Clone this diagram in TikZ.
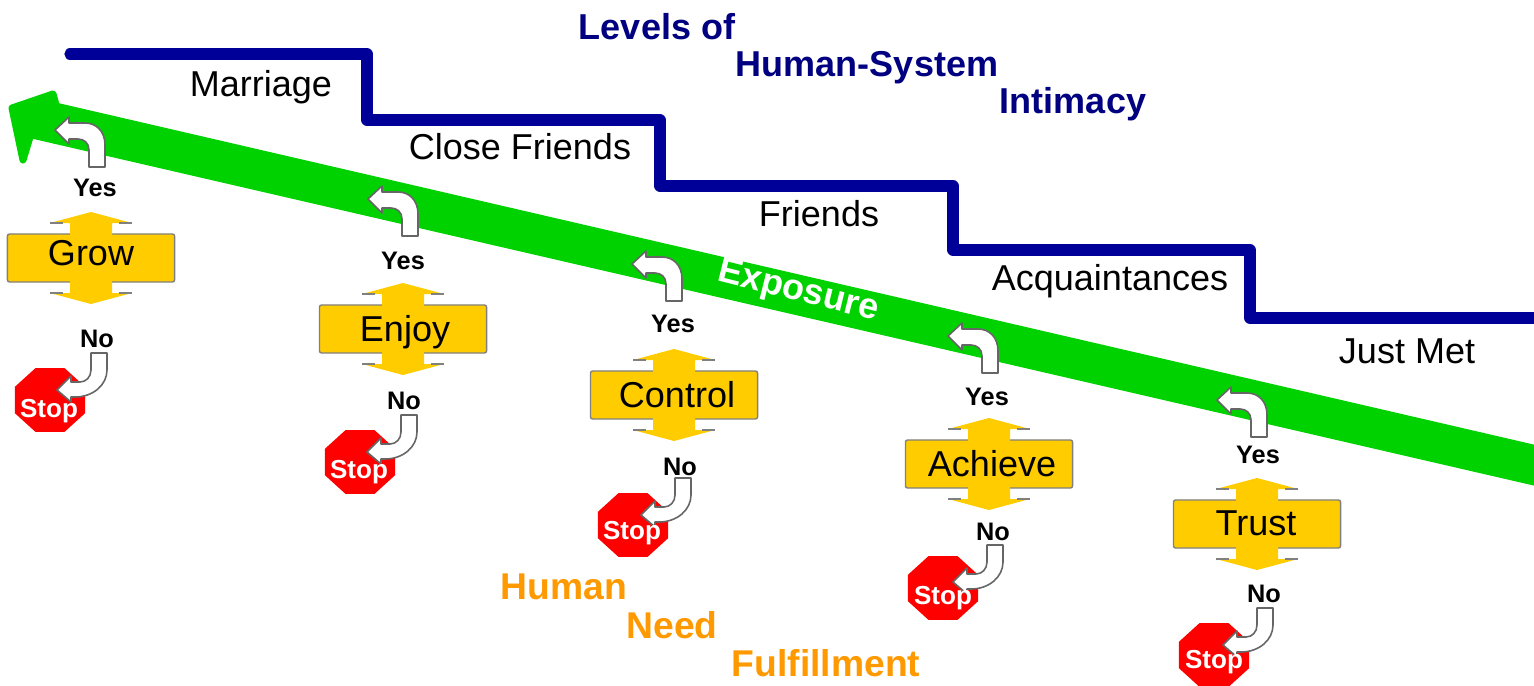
\documentclass[tikz,border=0pt]{standalone}
\usepackage{fontspec}
\setmainfont{Liberation Sans}
\usetikzlibrary{shapes.geometric}
\definecolor{exposure}{RGB}{0,210,0}
\definecolor{stairblue}{RGB}{0,0,153}
\definecolor{titleblue}{RGB}{0,0,128}
\definecolor{boxyellow}{RGB}{255,204,0}
\definecolor{needorange}{RGB}{255,153,0}
\tikzset{
    stairlabel/.style={font=\fontsize{10.24}{12}\selectfont, inner sep=0pt},
    titlelabel/.style={font=\fontsize{10.24}{12}\selectfont\bfseries, text=titleblue, inner sep=0pt},
    needlabel/.style={font=\fontsize{10.6}{12}\selectfont\bfseries, text=needorange, inner sep=0pt},
    answer/.style={font=\fontsize{7.2}{9}\selectfont\bfseries, inner sep=0pt},
    needbox/.style={draw=gray, fill=boxyellow, line width=0.4pt, rounded corners=0.6pt, minimum width=1.67cm, minimum height=0.48cm, inner sep=0pt},
    boxlabel/.style={anchor=base, inner sep=0pt, font=\fontsize{10.24}{12}\selectfont},
    stopsign/.style={regular polygon, regular polygon sides=8, fill=red, minimum size=0.69cm, inner sep=0pt, outer sep=0pt, xscale=1.1},
    stoptext/.style={font=\fontsize{7.4}{9}\selectfont\bfseries, text=white, inner sep=0pt},
    turn/.style={draw=gray!80!black, fill=white, line width=0.45pt, line join=round},
}
\begin{document}
\begin{tikzpicture}[x=0.01cm, y=-0.01cm]
    \useasboundingbox (0,0) rectangle (1534,685);

    % exposure band
    \fill[exposure] (1540,446) -- (58,103) -- (25,137) -- (1540,487) -- cycle;
    \filldraw[exposure, line width=2pt, line join=round] (53,94) -- (12,108) -- (23,160) -- (30,137) -- (58,112) -- cycle;
    \node[rotate=-14, inner sep=0pt, text=white, font=\fontsize{10.24}{12}\selectfont\bfseries] (exposure) at (798,292) {Exposure};

    % stairs
    \coordinate (S0) at (70,54);
    \coordinate (S1) at (367,54);
    \coordinate (S2) at (367,120);
    \coordinate (S3) at (660,120);
    \coordinate (S4) at (660,186);
    \coordinate (S5) at (953,186);
    \coordinate (S6) at (953,250);
    \coordinate (S7) at (1250,250);
    \coordinate (S8) at (1250,318);
    \coordinate (S9) at (1540,318);
    \draw[stairblue, line width=3.2pt, line cap=round, line join=round]
        (S0) -- (S1) -- (S2) -- (S3) -- (S4) -- (S5) -- (S6) -- (S7) -- (S8) -- (S9);

    \node[stairlabel] (marriage) at (261,87) {Marriage};
    \node[stairlabel] (close) at (520,147) {Close Friends};
    \node[stairlabel] (friends) at (819,214) {Friends};
    \node[stairlabel] (acquaint) at (1110,281) {Acquaintances};
    \node[stairlabel] (justmet) at (1407,351) {Just Met};

    \node[titlelabel] (levels) at (657,27) {Levels of};
    \node[titlelabel] (human) at (867,68) {Human-System};
    \node[titlelabel] (intimacy) at (1073,104) {Intimacy};

    \node[needlabel] (hum) at (564,587) {Human};
    \node[needlabel] (need) at (672,625) {Need};
    \node[needlabel] (fulfil) at (826,663) {Fulfillment};

    % one need: name, box, label, yes, no, stop, stop text, up turn, down turn
    \foreach \nm/\lab/\bx/\by/\lx/\ly/\yx/\yy/\nx/\ny/\sx/\sy/\tx/\ty/\ux/\uy/\dx/\dy in {
        grow/Grow/91/258/91/265/95/188/97/339/50/400/49/411/105/167/107/353,
        enjoy/Enjoy/403/329/405/341/403/261/404/401/360/462/359/472/418/236/417/415,
        control/Control/674/395/677/407/673/324/680/467/633/525/632/533/682/301/691/478,
        achieve/Achieve/989/464/992/476/987/397/993/532/943/588/943/598/998/373/1003/545,
        trust/Trust/1257/524/1256/535/1258/455/1264/594/1214/655/1214/662/1267/437/1273/608} {
        \node[needbox] (\nm) at (\bx,\by) {};
        \begin{scope}[shift={(\bx,\by)}]
            \fill[boxyellow] (-21,-23) -- (-21,-35) -- (-41,-35) -- (0,-46) -- (41,-35) -- (21,-35) -- (21,-23) -- cycle;
            \fill[boxyellow] (-21,23) -- (-21,35) -- (-41,35) -- (0,46) -- (41,35) -- (21,35) -- (21,23) -- cycle;
            \draw[gray, line width=0.5pt] (-41,-35) -- (-28,-35) (28,-35) -- (41,-35);
            \draw[gray, line width=0.5pt] (-41,35) -- (-28,35) (28,35) -- (41,35);
        \end{scope}
        \node[boxlabel] (\nm text) at (\lx,\ly) {\lab};
        \node[answer] (\nm yes) at (\yx,\yy) {Yes};
        \node[answer] (\nm no) at (\nx,\ny) {No};
        \node[stopsign] (\nm stop) at (\sx,\sy) {};
        \draw[turn, shift={(\ux,\uy)}] (0,0) -- (0,-22) .. controls (0,-36) and (-9,-44) .. (-20,-44)
            -- (-36,-44) -- (-36,-50) -- (-50,-37) -- (-36,-23) -- (-36,-28) -- (-27,-28)
            .. controls (-21,-28) and (-16,-24) .. (-16,-17) -- (-16,0) -- cycle;
        \draw[turn, shift={(\dx,\dy)}] (0,0) -- (0,17) .. controls (0,32) and (-14,44) .. (-32,44)
            -- (-36,44) -- (-36,49) -- (-50,37) -- (-36,23) -- (-36,29) -- (-27,29)
            .. controls (-21,29) and (-16,24) .. (-16,17) -- (-16,0) -- cycle;
        \node[stoptext] (\nm halt) at (\tx,\ty) {Stop};
    }
\end{tikzpicture}
\end{document}
